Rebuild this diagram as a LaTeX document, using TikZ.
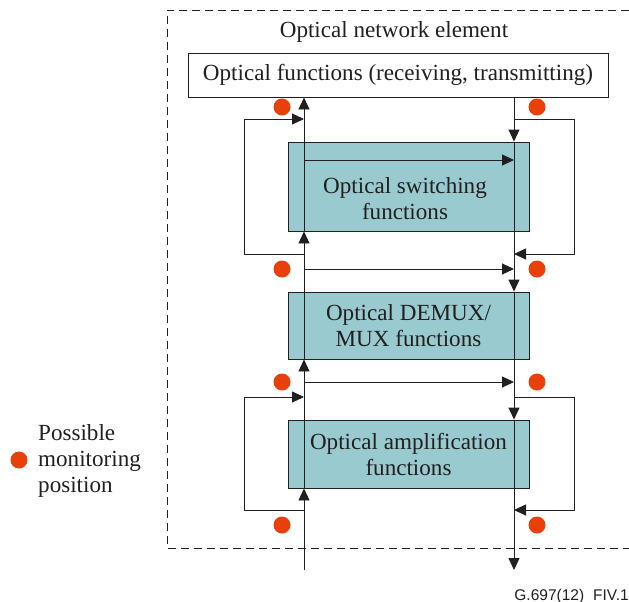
\documentclass[tikz,border=0pt]{standalone}
\usepackage{fontspec}
\setmainfont{Liberation Serif}
\newfontfamily\figsans{Liberation Sans}
\usetikzlibrary{arrows.meta}
\definecolor{funcfill}{HTML}{98CAD0}
\definecolor{monred}{HTML}{E8400A}
\definecolor{ink}{HTML}{231F20}
\tikzset{
  lbl/.style={font=\fontsize{23.1}{26}\selectfont, text=ink, inner sep=0pt},
  topbox/.style={draw=ink, fill=white, line width=0.9pt, minimum width=420pt, minimum height=44pt, lbl},
  funcbox/.style={draw=ink, fill=funcfill, line width=0.9pt, minimum width=241pt, align=center, lbl},
  arr/.style={draw=ink, line width=0.9pt, -{Triangle[length=12pt,width=11pt]}},
  mon/.style={circle, fill=monred, minimum size=17pt, inner sep=0pt},
  frame/.style={draw=ink, line width=0.9pt, dash pattern=on 8pt off 5pt}
}
\begin{document}
\begin{tikzpicture}[x=1pt,y=-1pt]
\useasboundingbox (0,0) rectangle (629,602);

% outer element boundary (open to the right)
\draw[frame] (629,10) -- (167,10) -- (167,548) -- (629,548);
\node[lbl, anchor=base] (ne) at (394,38) {Optical network element};

% function blocks
\node[topbox] (of) at (398,75) {Optical functions (receiving, transmitting)};
\node[funcbox, minimum height=89pt] (sw) at (408.5,186.5) {};
\node[lbl, align=center] (swt) at (405,199) {Optical switching\\functions};
\node[funcbox, minimum height=67pt] (dm) at (408.5,325.5) {Optical DEMUX/\\MUX functions};
\node[funcbox, minimum height=68pt] (am) at (408.5,454) {Optical amplification\\functions};

% ends of the two main signal paths
\coordinate (lb) at (304,570);
\coordinate (rb) at (514,570);

% upstream path (left)
\draw[arr] (lb) -- (lb |- am.south);
\draw[arr] (lb |- am.south) -- (lb |- dm.south);
\draw[arr] (lb |- dm.south) -- (lb |- sw.south);
\draw[arr] (lb |- sw.south) -- (lb |- of.south);

% downstream path (right)
\draw[arr] (rb |- of.south) -- (rb |- sw.north);
\draw[arr] (rb |- sw.north) -- (rb |- dm.north);
\draw[arr] (rb |- dm.north) -- (rb |- am.north);
\draw[arr] (rb |- am.north) -- (rb);

% cross connections
\coordinate (xa) at (304,160);
\coordinate (xb) at (304,269);
\coordinate (xc) at (304,382);
\draw[arr] (xa) -- (xa -| rb);
\draw[arr] (xb) -- (xb -| rb);
\draw[arr] (xc) -- (xc -| rb);

% bypass loops around switching
\coordinate (la1) at (304,254);
\coordinate (la2) at (244,254);
\coordinate (la3) at (244,119);
\coordinate (la4) at (304,119);
\draw[arr] (la1) -- (la2) -- (la3) -- (la4);
\coordinate (ra1) at (514,119);
\coordinate (ra2) at (574,119);
\coordinate (ra3) at (574,254);
\coordinate (ra4) at (514,254);
\draw[arr] (ra1) -- (ra2) -- (ra3) -- (ra4);

% bypass loops around amplification
\coordinate (lc1) at (304,510);
\coordinate (lc2) at (244,510);
\coordinate (lc3) at (244,397);
\coordinate (lc4) at (304,397);
\draw[arr] (lc1) -- (lc2) -- (lc3) -- (lc4);
\coordinate (rc1) at (514,397);
\coordinate (rc2) at (574,397);
\coordinate (rc3) at (574,510);
\coordinate (rc4) at (514,510);
\draw[arr] (rc1) -- (rc2) -- (rc3) -- (rc4);

% monitoring positions
\node[mon] (m1) at (282,107) {};
\node[mon] (m2) at (537,107) {};
\node[mon] (m3) at (282,269) {};
\node[mon] (m4) at (537,269) {};
\node[mon] (m5) at (282,382) {};
\node[mon] (m6) at (537,382) {};
\node[mon] (m7) at (282,525) {};
\node[mon] (m8) at (537,525) {};

% legend
\node[mon] (lg) at (19,460) {};
\node[lbl, anchor=west, align=left] (lgt) at (38,461) {Possible\\monitoring\\position};

% figure reference
\node[anchor=base east, inner sep=0pt, text=ink, font=\figsans\fontsize{15.5}{18}\selectfont] (fig) at (629,600) {G.697(12)\hspace{9pt}FIV.1};
\end{tikzpicture}
\end{document}
